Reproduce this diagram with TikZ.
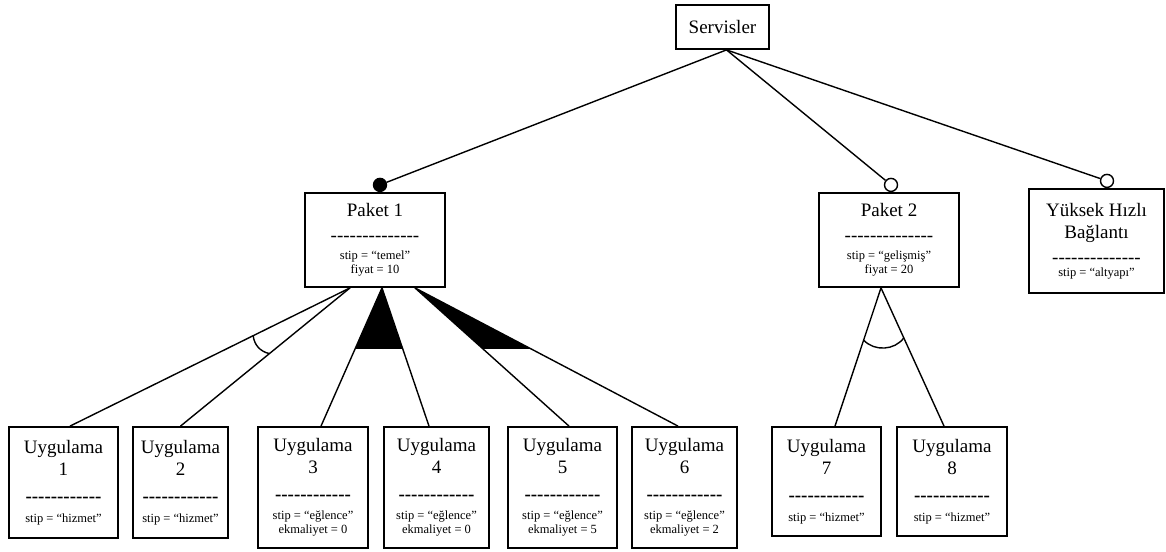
\documentclass[tikz,border=0pt]{standalone}
\usepackage{fontspec}
\setmainfont{Liberation Serif}[Ligatures=TeXOff]
\usetikzlibrary{calc}
\newcommand{\bigfs}{\fontsize{19}{22}\selectfont}
\newcommand{\smallfs}{\fontsize{12.5}{14}\selectfont}
\tikzset{
    %Define style for feature boxes
    feature/.style={
           rectangle,
           draw=black, line width=1.8pt,
           inner sep=0pt,
           align=center,
           font=\bigfs},
    %Define style for group markers
    mandatory/.style={
           circle,
           draw=black, line width=1.4pt,
           fill=black,
           inner sep=0pt,
           minimum size=13pt},
    optional/.style={
           circle,
           draw=black, line width=1.4pt,
           fill=white,
           inner sep=0pt,
           minimum size=13pt},
    % Define line style
    link/.style={
           line width=1.4pt}
}

\begin{document}
\begin{tikzpicture}[x=1pt,y=-1pt]
\useasboundingbox (0,0) rectangle (1166,551);

 %nodes
\node[feature, minimum width=93pt, minimum height=44pt] (servisler) at (722.5,27) {Servisler};
\node[feature, minimum width=140pt, minimum height=94pt] (paket1) at (375,240)
  {Paket 1\\[3pt]--------------\\[-4pt]{\smallfs stip = “temel”}\\[-8pt]{\smallfs fiyat = 10}};
\node[feature, minimum width=140pt, minimum height=94pt] (paket2) at (889,240)
  {Paket 2\\[3pt]--------------\\[-4pt]{\smallfs stip = “gelişmiş”}\\[-8pt]{\smallfs fiyat = 20}};
\node[feature, minimum width=135pt, minimum height=104pt] (baglanti) at (1096.5,241)
  {Yüksek Hızlı\\Bağlantı\\[3pt]--------------\\[-9pt]{\smallfs stip = “altyapı”}};

\node[feature, minimum width=109pt, minimum height=111pt] (uyg1) at (63.5,482.5)
  {Uygulama\\1\\[5pt]{\bfseries ------------}\\[-2pt]{\smallfs stip = “hizmet”}};
\node[feature, minimum width=95pt, minimum height=111pt] (uyg2) at (180.5,482.5)
  {Uygulama\\2\\[5pt]{\bfseries ------------}\\[-2pt]{\smallfs stip = “hizmet”}};
\node[feature, minimum width=110pt, minimum height=121pt] (uyg3) at (313,487.5)
  {Uygulama\\3\\[5pt]{\bfseries ------------}\\[-3pt]{\smallfs stip = “eğlence”}\\[-8pt]{\smallfs ekmaliyet = 0}};
\node[feature, minimum width=105pt, minimum height=121pt] (uyg4) at (436.5,487.5)
  {Uygulama\\4\\[5pt]{\bfseries ------------}\\[-3pt]{\smallfs stip = “eğlence”}\\[-8pt]{\smallfs ekmaliyet = 0}};
\node[feature, minimum width=109pt, minimum height=121pt] (uyg5) at (562.5,487.5)
  {Uygulama\\5\\[5pt]{\bfseries ------------}\\[-3pt]{\smallfs stip = “eğlence”}\\[-8pt]{\smallfs ekmaliyet = 5}};
\node[feature, minimum width=105pt, minimum height=121pt] (uyg6) at (684.5,487.5)
  {Uygulama\\6\\[5pt]{\bfseries ------------}\\[-3pt]{\smallfs stip = “eğlence”}\\[-8pt]{\smallfs ekmaliyet = 2}};
\node[feature, minimum width=109pt, minimum height=109pt] (uyg7) at (826.5,481.5)
  {Uygulama\\7\\[5pt]{\bfseries ------------}\\[-2pt]{\smallfs stip = “hizmet”}};
\node[feature, minimum width=110pt, minimum height=109pt] (uyg8) at (952,481.5)
  {Uygulama\\8\\[5pt]{\bfseries ------------}\\[-2pt]{\smallfs stip = “hizmet”}};

 %markers
\node[mandatory, anchor=south] (m1) at ([xshift=5pt]paket1.north) {};
\node[optional, anchor=south] (o2) at ([xshift=2pt]paket2.north) {};
\node[optional, anchor=south] (o3) at ([xshift=10.5pt]baglanti.north) {};

 %end points
\coordinate (sv) at ([xshift=4pt]servisler.south);
\coordinate (p1a) at ([xshift=-25pt]paket1.south);
\coordinate (p1b) at ([xshift=7pt]paket1.south);
\coordinate (p1c) at ([xshift=40pt]paket1.south);
\coordinate (p2a) at ([xshift=-8pt]paket2.south);
\coordinate (u1) at ([xshift=6.5pt]uyg1.north);
\coordinate (u2) at (uyg2.north);
\coordinate (u3) at ([xshift=8pt]uyg3.north);
\coordinate (u4) at ([xshift=-7.5pt]uyg4.north);
\coordinate (u5) at ([xshift=6.5pt]uyg5.north);
\coordinate (u6) at ([xshift=-6.5pt]uyg6.north);
\coordinate (u7) at ([xshift=8.5pt]uyg7.north);
\coordinate (u8) at ([xshift=-8pt]uyg8.north);

 %groups
\fill (p1b) -- ($(p1b)!0.442!(u3)$) -- ($(p1b)!0.442!(u4)$) -- cycle;
\fill (p1c) -- ($(p1c)!0.442!(u5)$) -- ($(p1c)!0.442!(u6)$) -- cycle;
\draw[link] ($(p1a)!108pt!(u1)$) to[bend right=35] ($(p1a)!104pt!(u2)$);
\draw[link] ($(p2a)!55pt!(u7)$) to[bend right=50] ($(p2a)!55pt!(u8)$);

 %connectors
\path[link] (sv) edge (m1)
    (sv) edge (o2)
    (sv) edge (o3)
    (p1a) edge (u1)
    (p1a) edge (u2)
    (p1b) edge (u3)
    (p1b) edge (u4)
    (p1c) edge (u5)
    (p1c) edge (u6)
    (p2a) edge (u7)
    (p2a) edge (u8);

\end{tikzpicture}
\end{document}
